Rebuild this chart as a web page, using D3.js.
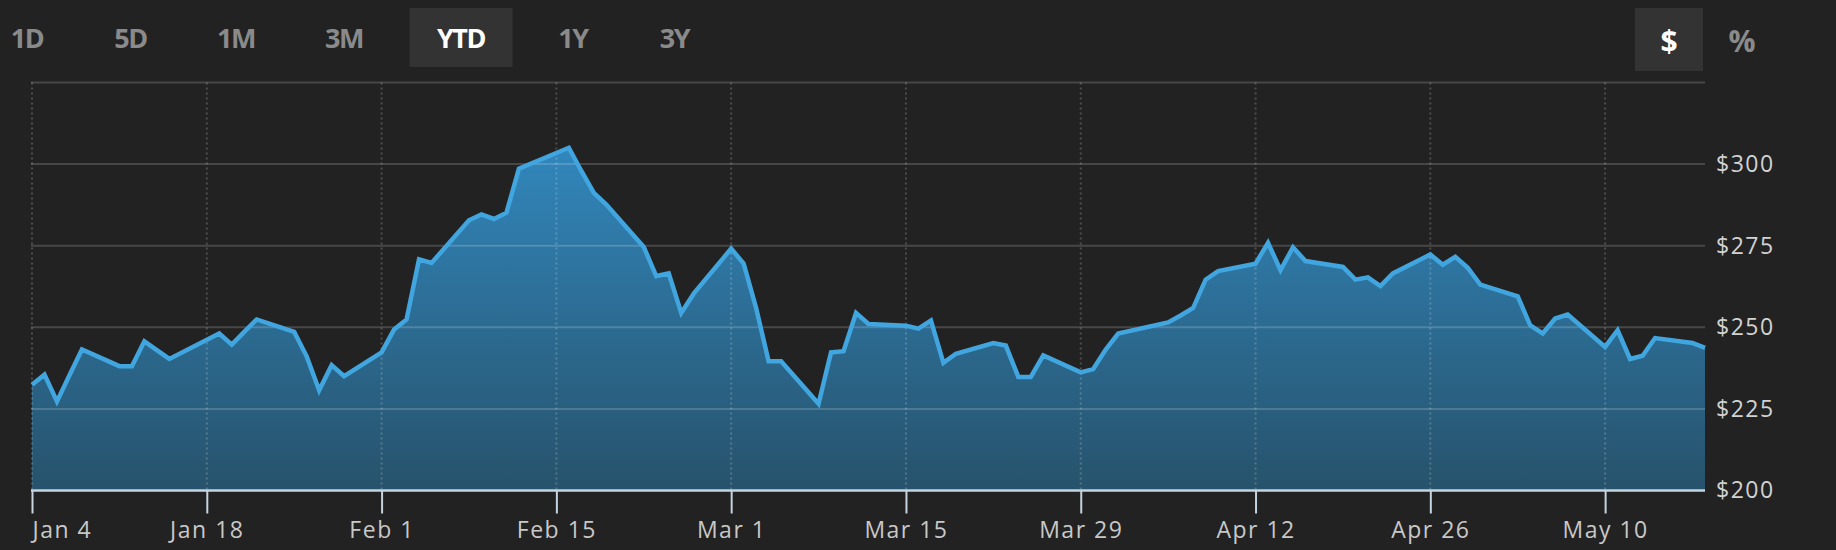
<!DOCTYPE html>
<html>
<head>
<meta charset="utf-8">
<script src="https://cdn.jsdelivr.net/npm/d3@7"></script>
<style>
  html, body { margin: 0; padding: 0; background: #222222; }
  svg { display: block; }
</style>
</head>
<body>
<svg id="chart" width="1836" height="550"></svg>
<script>
// ---- data ----
const dates = [
  "2021-01-04","2021-01-05","2021-01-06","2021-01-07","2021-01-08",
  "2021-01-11","2021-01-12","2021-01-13","2021-01-14","2021-01-15",
  "2021-01-19","2021-01-20","2021-01-21","2021-01-22",
  "2021-01-25","2021-01-26","2021-01-27","2021-01-28","2021-01-29",
  "2021-02-01","2021-02-02","2021-02-03","2021-02-04","2021-02-05",
  "2021-02-08","2021-02-09","2021-02-10","2021-02-11","2021-02-12",
  "2021-02-16","2021-02-17","2021-02-18","2021-02-19",
  "2021-02-22","2021-02-23","2021-02-24","2021-02-25","2021-02-26",
  "2021-03-01","2021-03-02","2021-03-03","2021-03-04","2021-03-05",
  "2021-03-08","2021-03-09","2021-03-10","2021-03-11","2021-03-12",
  "2021-03-15","2021-03-16","2021-03-17","2021-03-18","2021-03-19",
  "2021-03-22","2021-03-23","2021-03-24","2021-03-25","2021-03-26",
  "2021-03-29","2021-03-30","2021-03-31","2021-04-01",
  "2021-04-05","2021-04-06","2021-04-07","2021-04-08","2021-04-09",
  "2021-04-12","2021-04-13","2021-04-14","2021-04-15","2021-04-16",
  "2021-04-19","2021-04-20","2021-04-21","2021-04-22","2021-04-23",
  "2021-04-26","2021-04-27","2021-04-28","2021-04-29","2021-04-30",
  "2021-05-03","2021-05-04","2021-05-05","2021-05-06","2021-05-07",
  "2021-05-10","2021-05-11","2021-05-12","2021-05-13","2021-05-14",
  "2021-05-17","2021-05-18"
];
const prices = [
  232.4, 235.5, 227.3, 235.3, 243.2,
  238.1, 238.1, 245.7, 243.0, 240.3,
  248.1, 244.7, 248.6, 252.4,
  248.6, 241.1, 230.7, 238.4, 235.0,
  242.3, 249.3, 252.4, 270.8, 269.7,
  282.8, 284.6, 283.2, 285.1, 298.6,
  305.0, 297.9, 291.2, 287.6,
  274.6, 265.7, 266.5, 254.4, 260.3,
  274.1, 269.5, 255.9, 239.6, 239.6,
  226.6, 242.3, 242.7, 254.4, 251.0,
  250.5, 249.6, 252.1, 239.1, 241.9,
  245.2, 244.4, 234.8, 234.8, 241.4,
  236.2, 237.2, 243.2, 248.1,
  251.5, 253.6, 255.9, 264.6, 267.2,
  269.5, 275.9, 267.5, 274.5, 270.3,
  268.5, 264.6, 265.3, 262.6, 266.5,
  272.3, 269.2, 271.6, 268.2, 263.1,
  259.5, 250.6, 248.1, 252.7, 253.9,
  244.0, 249.1, 240.3, 241.3, 246.7,
  245.2, 243.7
];
const xTickDates = ["2021-01-04","2021-01-18","2021-02-01","2021-02-15","2021-03-01",
  "2021-03-15","2021-03-29","2021-04-12","2021-04-26","2021-05-10"];
const yTickValues = [200, 225, 250, 275, 300];
const yGridValues = [225, 250, 275, 300, 325];
const yDomain = [200, 325];
const xDomain = ["2021-01-04", "2021-05-18"];
const rangeButtons = ["1D", "5D", "1M", "3M", "YTD", "1Y", "3Y"];
const activeRange = "YTD";
const modeButtons = ["$", "%"];
const activeMode = "$";

// layout (button centres, px)
const rangeButtonX = [27, 130.5, 236, 344, 461, 573, 674.5];
const modeButtonX = [1669, 1742];

// ---- setup ----
const parse = d3.timeParse("%Y-%m-%d");
const data = dates.map((d, i) => ({ date: parse(d), value: prices[i] }));
const svg = d3.select("#chart");
const L = 32, R = 1705, T = 82.5, B = 490.5;

const x = d3.scaleTime().domain(xDomain.map(parse)).range([L, R]);
const y = d3.scaleLinear().domain(yDomain).range([B, T]);

// gradient
const defs = svg.append("defs");
const grad = defs.append("linearGradient")
  .attr("id", "areaGrad").attr("gradientUnits", "userSpaceOnUse")
  .attr("x1", 0).attr("x2", 0).attr("y1", y(310)).attr("y2", B);
grad.append("stop").attr("offset", "0%").attr("stop-color", "#3289c0");
grad.append("stop").attr("offset", "100%").attr("stop-color", "#27526b");

// area
svg.append("path").datum(data)
  .attr("fill", "url(#areaGrad)")
  .attr("d", d3.area().x(d => x(d.date)).y0(y(yDomain[0])).y1(d => y(d.value)));

// horizontal grid
svg.append("g").selectAll("line").data(yGridValues).join("line")
  .attr("x1", L - 1).attr("x2", R)
  .attr("y1", d => y(d)).attr("y2", d => y(d))
  .attr("stroke", "rgba(255,255,255,0.17)").attr("stroke-width", 2);

// vertical dotted grid
svg.append("g").selectAll("line").data(xTickDates.map(parse)).join("line")
  .attr("x1", d => x(d)).attr("x2", d => x(d))
  .attr("y1", T).attr("y2", B)
  .attr("stroke", "rgba(255,255,255,0.2)").attr("stroke-width", 2)
  .attr("stroke-dasharray", "2,3");

// line
svg.append("path").datum(data)
  .attr("fill", "none").attr("stroke", "#41a6df").attr("stroke-width", 4.5)
  .attr("stroke-linejoin", "miter").attr("stroke-miterlimit", 3)
  .attr("d", d3.line().x(d => x(d.date)).y(d => y(d.value)));

// x axis
const xAxis = svg.append("g").attr("transform", `translate(0,${B})`)
  .call(d3.axisBottom(x).tickValues(xTickDates.map(parse))
    .tickFormat(d3.timeFormat("%b %-d")).tickSizeOuter(0).tickSize(23).tickPadding(8));
xAxis.select(".domain").attr("stroke", "#c6d3e0").attr("stroke-width", 2.5)
  .attr("d", `M${L - 1},0H${R}`);
xAxis.selectAll(".tick line").attr("stroke", "#c6d3e0").attr("stroke-width", 2);
xAxis.selectAll(".tick text")
  .attr("fill", "#c8c8c8").attr("font-family", "'Open Sans', sans-serif")
  .attr("font-size", 23).attr("letter-spacing", 1.5)
  .attr("text-anchor", (d, i) => i === 0 ? "start" : "middle");

// y axis (right)
const yAxis = svg.append("g").attr("transform", `translate(${R},0)`)
  .call(d3.axisRight(y).tickValues(yTickValues).tickFormat(d => "$" + d)
    .tickSize(0).tickPadding(11));
yAxis.select(".domain").remove();
yAxis.selectAll(".tick text")
  .attr("fill", "#d2d2d2").attr("font-family", "'Open Sans', sans-serif")
  .attr("font-size", 23).attr("letter-spacing", 1.5);

// range buttons
const bg = svg.append("g");
const activeIdx = rangeButtons.indexOf(activeRange);
bg.append("rect")
  .attr("x", rangeButtonX[activeIdx] - 51.5).attr("y", 8).attr("width", 103).attr("height", 59)
  .attr("fill", "#333333");
bg.selectAll("text").data(rangeButtons).join("text")
  .attr("x", (d, i) => rangeButtonX[i]).attr("y", 37)
  .attr("text-anchor", "middle").attr("dominant-baseline", "central")
  .attr("font-family", "'Open Sans', sans-serif").attr("font-weight", 700)
  .attr("font-size", 27).attr("letter-spacing", -1.5)
  .attr("fill", d => d === activeRange ? "#ffffff" : "#8a8a8a")
  .text(d => d);

// mode buttons
const mg = svg.append("g");
const modeIdx = modeButtons.indexOf(activeMode);
mg.append("rect")
  .attr("x", modeButtonX[modeIdx] - 34).attr("y", 8).attr("width", 68).attr("height", 63)
  .attr("fill", "#333333");
mg.selectAll("text").data(modeButtons).join("text")
  .attr("x", (d, i) => modeButtonX[i]).attr("y", 40)
  .attr("text-anchor", "middle").attr("dominant-baseline", "central")
  .attr("font-family", "'Open Sans', sans-serif").attr("font-weight", 700)
  .attr("font-size", 30)
  .attr("fill", d => d === activeMode ? "#ffffff" : "#8a8a8a")
  .text(d => d);
</script>
</body>
</html>
